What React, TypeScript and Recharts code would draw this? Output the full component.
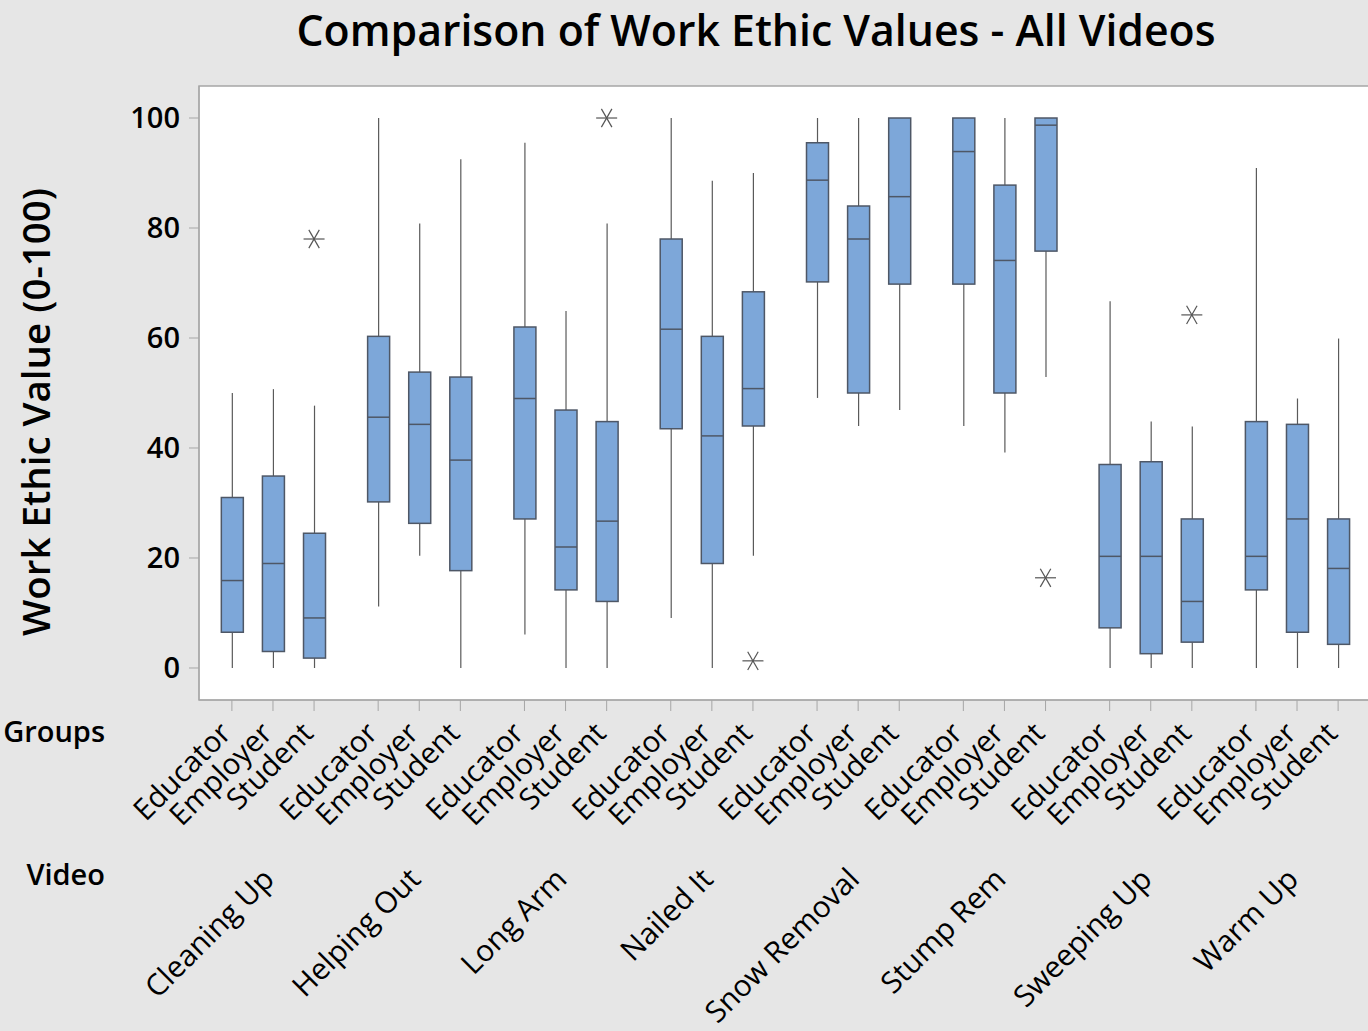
import React from 'react';
import {
  ComposedChart,
  Bar,
  Scatter,
  XAxis,
  YAxis,
  CartesianGrid,
  ReferenceArea,
} from 'recharts';

// Categories
const videos = [
  'Cleaning Up',
  'Helping Out',
  'Long Arm',
  'Nailed It',
  'Snow Removal',
  'Stump Rem',
  'Sweeping Up',
  'Warm Up',
];
const groups = ['Educator', 'Employer', 'Student'];

// Box statistics, one entry per Video x Groups cell (video-major order)
const whiskerLow = [
  0, 0, 0,
  11.2, 20.4, 0,
  6.1, 0, 0,
  9.1, 0, 20.4,
  49.1, 44.0, 46.9,
  44.0, 39.2, 52.9,
  0, 0, 0,
  0, 0, 0,
];
const q1 = [
  6.5, 3.0, 1.8,
  30.2, 26.3, 17.7,
  27.1, 14.2, 12.1,
  43.5, 19.0, 44.0,
  70.2, 50.0, 69.8,
  69.8, 50.0, 75.8,
  7.3, 2.6, 4.7,
  14.2, 6.5, 4.3,
];
const median = [
  15.9, 19.0, 9.1,
  45.6, 44.3, 37.8,
  49.0, 22.0, 26.7,
  61.6, 42.2, 50.8,
  88.7, 78.0, 85.7,
  93.9, 74.1, 98.7,
  20.3, 20.3, 12.1,
  20.3, 27.1, 18.1,
];
const q3 = [
  31.0, 34.9, 24.5,
  60.3, 53.8, 52.9,
  62.0, 46.9, 44.8,
  78.0, 60.3, 68.4,
  95.5, 84.0, 100,
  100, 87.8, 100,
  37.0, 37.5, 27.1,
  44.8, 44.3, 27.1,
];
const whiskerHigh = [
  50.0, 50.7, 47.7,
  100, 80.8, 92.5,
  95.5, 64.9, 80.8,
  100, 88.6, 90.0,
  100, 100, 100,
  100, 100, 100,
  66.7, 44.8, 43.9,
  90.9, 49.0, 59.9,
];

// Outliers: [video index, group index, value]
const outliers: [number, number, number][] = [
  [0, 2, 78.0],
  [2, 2, 100],
  [3, 2, 1.3],
  [5, 2, 16.4],
  [6, 2, 64.2],
];

const yTicks = [0, 20, 40, 60, 80, 100];

// Layout constants for the numeric category axis
const GROUP_STEP = 3.56;
const X_MIN = -0.8;
const X_MAX = 7 * GROUP_STEP + 2 + 0.8;
const Y_MIN = -5.82;
const Y_MAX = 105.82;

const FONT = '"Open Sans", "Noto Sans", sans-serif';
const BG = '#E6E6E6';
const FRAME = '#A6A6A6';
const BOX_FILL = '#7DA7D9';
const BOX_STROKE = '#4E5766';
const WHISKER = '#5A5A5A';

const posOf = (vi: number, gi: number) => vi * GROUP_STEP + gi;

const boxRows = videos.flatMap((_, vi) =>
  groups.map((g, gi) => {
    const i = vi * 3 + gi;
    return {
      x: posOf(vi, gi),
      video: videos[vi],
      group: g,
      box: [q1[i], q3[i]],
      lo: whiskerLow[i],
      q1: q1[i],
      med: median[i],
      q3: q3[i],
      hi: whiskerHigh[i],
    };
  })
);

const outlierRows = outliers.map(([vi, gi, v]) => ({ x: posOf(vi, gi), value: v }));

const tickXs = boxRows.map((r) => r.x);

// Draws whiskers, IQR box and median using the bar's own pixel mapping
const BoxShape = (props: any) => {
  const { x, y, width, height, payload } = props;
  if (payload == null || width == null) return null;
  const top = Math.min(y, y + height);
  const h = Math.abs(height);
  const k = h / (payload.q3 - payload.q1);
  const py = (v: number) => top + (payload.q3 - v) * k;
  const cx = x + width / 2;
  return (
    <g>
      <line x1={cx} x2={cx} y1={py(payload.hi)} y2={py(payload.q3)} stroke={WHISKER} strokeWidth={1.2} />
      <line x1={cx} x2={cx} y1={py(payload.q1)} y2={py(payload.lo)} stroke={WHISKER} strokeWidth={1.2} />
      <rect x={x} y={top} width={width} height={h} fill={BOX_FILL} stroke={BOX_STROKE} strokeWidth={1.5} />
      <line x1={x} x2={x + width} y1={py(payload.med)} y2={py(payload.med)} stroke={BOX_STROKE} strokeWidth={1.5} />
    </g>
  );
};

// Minitab-style asterisk for outliers
const Asterisk = (props: any) => {
  const { cx, cy } = props;
  if (cx == null || cy == null) return null;
  const r = 10.5;
  const a = r * Math.cos(Math.PI / 3);
  const b = r * Math.sin(Math.PI / 3);
  return (
    <g stroke="#555" strokeWidth={1.2}>
      <line x1={cx - r} x2={cx + r} y1={cy} y2={cy} />
      <line x1={cx - a} x2={cx + a} y1={cy - b} y2={cy + b} />
      <line x1={cx + a} x2={cx - a} y1={cy - b} y2={cy + b} />
    </g>
  );
};

const GroupTick = (props: any) => {
  const { x, y, payload } = props;
  const idx = tickXs.findIndex((t) => Math.abs(t - payload.value) < 1e-6);
  if (idx < 0) return null;
  const gi = idx % 3;
  const vi = Math.floor(idx / 3);
  const gx = x + 1;
  const gy = y + 24;
  const vx = x + 3;
  const vy = y + 170;
  return (
    <g>
      <text
        x={gx}
        y={gy}
        transform={`rotate(-45, ${gx}, ${gy})`}
        textAnchor="end"
        fontSize={29.5}
        fontFamily={FONT}
        fill="#000"
      >
        {groups[gi]}
      </text>
      {gi === 1 && (
        <text
          x={vx}
          y={vy}
          transform={`rotate(-45, ${vx}, ${vy})`}
          textAnchor="end"
          fontSize={29.8}
          fontFamily={FONT}
          fill="#000"
        >
          {videos[vi]}
        </text>
      )}
    </g>
  );
};

export default function App() {
  return (
    <div
      style={{
        position: 'absolute',
        left: 0,
        top: 0,
        width: 1368,
        height: 1031,
        overflow: 'hidden',
        background: BG,
      }}
    >
      <ComposedChart
        width={1372}
        height={1031}
        data={boxRows}
        margin={{ top: 86, right: 1, bottom: 181, left: 119 }}
      >
        <CartesianGrid fill="#FFFFFF" fillOpacity={1} horizontal={false} vertical={false} />
        <XAxis
          type="number"
          dataKey="x"
          domain={[X_MIN, X_MAX]}
          allowDataOverflow
          ticks={tickXs}
          interval={0}
          tickSize={11}
          tickMargin={0}
          height={150}
          stroke={FRAME}
          tick={<GroupTick />}
        />
        <YAxis
          type="number"
          domain={[Y_MIN, Y_MAX]}
          allowDataOverflow
          ticks={yTicks}
          width={80}
          tickSize={10}
          tickMargin={9}
          stroke={FRAME}
          tick={{ fontSize: 29, fontWeight: 600, fill: '#000', fontFamily: FONT }}
        />
        <ReferenceArea
          x1={X_MIN}
          x2={X_MAX}
          y1={Y_MIN}
          y2={Y_MAX}
          fill="none"
          stroke={FRAME}
          strokeWidth={1.5}
          ifOverflow="visible"
        />
        <Bar dataKey="box" barSize={22} shape={<BoxShape />} isAnimationActive={false} />
        <Scatter data={outlierRows} dataKey="value" shape={<Asterisk />} isAnimationActive={false} />
      </ComposedChart>
      <svg
        width={1368}
        height={1031}
        style={{ position: 'absolute', left: 0, top: 0, pointerEvents: 'none' }}
      >
        <text x={756} y={46} textAnchor="middle" fontSize={42.8} fontWeight={600} fontFamily={FONT} fill="#000">
          Comparison of Work Ethic Values - All Videos
        </text>
        <text
          x={50}
          y={412}
          transform="rotate(-90, 50, 412)"
          textAnchor="middle"
          fontSize={38.5}
          fontWeight={600}
          fontFamily={FONT}
          fill="#000"
        >
          Work Ethic Value (0-100)
        </text>
        <text x={105} y={742} textAnchor="end" fontSize={29} fontWeight={600} fontFamily={FONT} fill="#000">
          Groups
        </text>
        <text x={105} y={885} textAnchor="end" fontSize={29} fontWeight={600} fontFamily={FONT} fill="#000">
          Video
        </text>
      </svg>
    </div>
  );
}
